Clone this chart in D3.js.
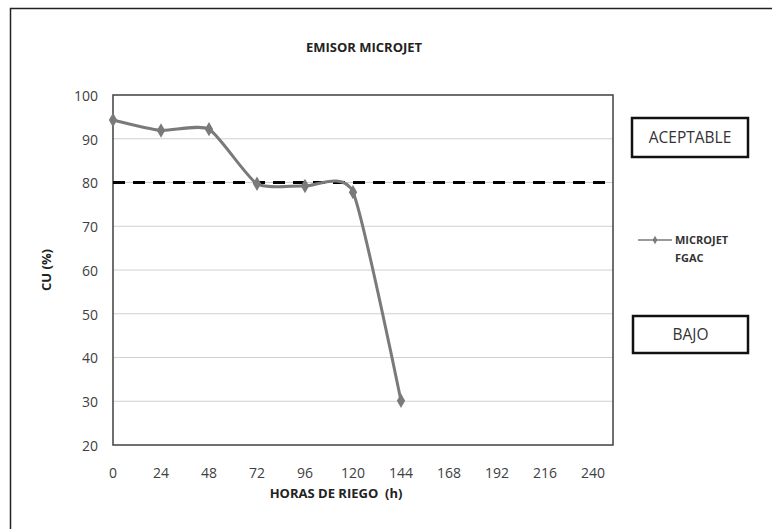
<!DOCTYPE html>
<html>
<head>
<meta charset="utf-8">
<script src="https://cdn.jsdelivr.net/npm/d3@7"></script>
<style>
  body { margin: 0; background: #fff; }
  svg { display: block; font-family: "Open Sans", "Noto Sans", sans-serif; }
</style>
</head>
<body>
<svg id="chart" width="772" height="529"></svg>
<script>
// data
const hours = [0, 24, 48, 72, 96, 120, 144];
const cuValues = [94.3, 91.9, 92.2, 79.7, 79.2, 77.8, 30.1];
const xTicks = [0, 24, 48, 72, 96, 120, 144, 168, 192, 216, 240];
const yTicks = [20, 30, 40, 50, 60, 70, 80, 90, 100];
const threshold = 80;

const svg = d3.select("#chart");

// outer frame (only top and left edges show in the picture)
svg.append("path")
    .attr("d", "M10.5,529 V8.5 H772")
    .attr("fill", "none")
    .attr("stroke", "#222")
    .attr("stroke-width", 1.5);

const x = d3.scaleLinear().domain([0, 250]).range([113, 613]);
const y = d3.scaleLinear().domain([20, 100]).range([445, 95]);

// gridlines
svg.append("g")
    .selectAll("line")
    .data(yTicks.filter(d => d > 20 && d < 100))
    .join("line")
      .attr("x1", x(0)).attr("x2", x(250))
      .attr("y1", d => y(d)).attr("y2", d => y(d))
      .attr("stroke", "#d0d0d0")
      .attr("stroke-width", 1);

// plot box
svg.append("rect")
    .attr("x", x(0)).attr("y", y(100))
    .attr("width", x(250) - x(0))
    .attr("height", y(20) - y(100))
    .attr("fill", "none")
    .attr("stroke", "#404040")
    .attr("stroke-width", 1.5);

// y tick labels
svg.append("g")
    .selectAll("text")
    .data(yTicks)
    .join("text")
      .attr("x", 98)
      .attr("y", d => y(d) + 1)
      .attr("dy", "0.35em")
      .attr("text-anchor", "end")
      .attr("font-size", 14)
      .attr("fill", "#404040")
      .text(d => d);

// x tick labels
svg.append("g")
    .selectAll("text")
    .data(xTicks)
    .join("text")
      .attr("x", d => x(d))
      .attr("y", 478)
      .attr("text-anchor", "middle")
      .attr("font-size", 14)
      .attr("fill", "#404040")
      .text(d => d);

// threshold line at 80
svg.append("line")
    .attr("x1", x(0)).attr("x2", x(250))
    .attr("y1", y(threshold)).attr("y2", y(threshold))
    .attr("stroke", "#000")
    .attr("stroke-width", 3)
    .attr("stroke-dasharray", "12,8");

// smoothed series
const pts = hours.map((h, i) => [h, cuValues[i]]);
const line = d3.line()
    .x(d => x(d[0]))
    .y(d => y(d[1]))
    .curve(d3.curveCardinal.tension(0.4));

svg.append("path")
    .datum(pts)
    .attr("d", line)
    .attr("fill", "none")
    .attr("stroke", "#7a7a7a")
    .attr("stroke-width", 3);

const diamond = d3.symbol().type(d3.symbolDiamond).size(60);
svg.append("g")
    .selectAll("path")
    .data(pts)
    .join("path")
      .attr("d", diamond)
      .attr("transform", d => `translate(${x(d[0])},${y(d[1])})`)
      .attr("fill", "#7a7a7a");

// titles
svg.append("text")
    .attr("x", 364).attr("y", 52)
    .attr("text-anchor", "middle")
    .attr("font-size", 13)
    .attr("font-weight", "bold")
    .attr("fill", "#222")
    .text("EMISOR MICROJET");

svg.append("text")
    .attr("x", 336).attr("y", 498)
    .attr("text-anchor", "middle")
    .attr("font-size", 13)
    .attr("font-weight", "bold")
    .attr("fill", "#222")
    .attr("xml:space", "preserve")
    .text("HORAS DE RIEGO  (h)");

svg.append("text")
    .attr("transform", "translate(51,270) rotate(-90)")
    .attr("text-anchor", "middle")
    .attr("font-size", 13)
    .attr("font-weight", "bold")
    .attr("fill", "#222")
    .text("CU (%)");

// label boxes
const boxes = [
  { label: "ACEPTABLE", x: 632, y: 118, w: 116, h: 39 },
  { label: "BAJO", x: 633, y: 316, w: 115, h: 37 }
];
const bg = svg.append("g")
    .selectAll("g")
    .data(boxes)
    .join("g");
bg.append("rect")
    .attr("x", d => d.x).attr("y", d => d.y)
    .attr("width", d => d.w).attr("height", d => d.h)
    .attr("fill", "#fff")
    .attr("stroke", "#111")
    .attr("stroke-width", 2.5);
bg.append("text")
    .attr("x", d => d.x + d.w / 2)
    .attr("y", d => d.y + d.h / 2)
    .attr("dy", "0.35em")
    .attr("text-anchor", "middle")
    .attr("font-size", 15.5)
    .attr("fill", "#333")
    .text(d => d.label);

// legend
svg.append("line")
    .attr("x1", 638).attr("x2", 672)
    .attr("y1", 240).attr("y2", 240)
    .attr("stroke", "#7a7a7a")
    .attr("stroke-width", 1.5);
svg.append("path")
    .attr("d", d3.symbol().type(d3.symbolDiamond).size(20))
    .attr("transform", "translate(655,240)")
    .attr("fill", "#7a7a7a");
svg.append("text")
    .attr("x", 675).attr("y", 244)
    .attr("font-size", 11)
    .attr("font-weight", "bold")
    .attr("fill", "#333")
    .text("MICROJET");
svg.append("text")
    .attr("x", 675).attr("y", 262)
    .attr("font-size", 11)
    .attr("font-weight", "bold")
    .attr("fill", "#333")
    .text("FGAC");
</script>
</body>
</html>
